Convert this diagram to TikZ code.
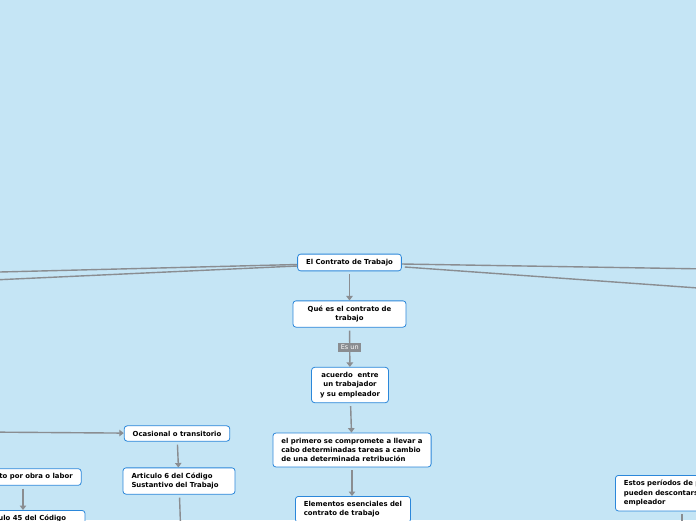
\documentclass[tikz,border=0pt]{standalone}
\usepackage{fontspec}
\setmainfont{DejaVu Sans}
\usetikzlibrary{arrows.meta}
\definecolor{sky}{HTML}{C5E5F5}
\definecolor{boxblue}{HTML}{2B87DA}
\definecolor{linkgray}{HTML}{8A8D91}

\begin{document}
\begin{tikzpicture}[x=1pt,y=-1pt,
    box/.style={draw=boxblue, fill=white, rounded corners=3pt, line width=0.8pt,
        font=\bfseries\fontsize{6.9}{9.3}\selectfont, inner xsep=8.5pt, inner ysep=5pt},
    link/.style={draw=linkgray, line width=1.4pt},
    arr/.style={link, -{Triangle[width=6.5pt,length=4.5pt]}, shorten <=3pt},
    tag/.style={fill=linkgray, text=white, font=\fontsize{6.5}{7}\selectfont,
        inner xsep=2.5pt, inner ysep=2.2pt}]
    \fill[sky] (0,0) rectangle (696,520);
    \useasboundingbox (0,0) rectangle (696,520);
    \clip (0,0) rectangle (696,520);

    \node[box] (root) at (349.5,262.5) {El Contrato de Trabajo};
    \node[box, align=center, minimum width=113pt] (que) at (349.5,314) {Qué es el contrato de\\trabajo};
    \node[box, align=center] (acuerdo) at (350,385) {acuerdo\ \ entre\\un trabajador\\y su empleador};
    \node[box, align=left] (primero) at (352,450) {el primero se compromete a llevar a\\cabo determinadas tareas a cambio\\de una determinada retribución};
    \node[box, align=left, anchor=north west] (elementos) at (295,496) {Elementos esenciales del\\contrato de trabajo};
    \node[box] (ocasional) at (177,433.5) {Ocasional o transitorio};
    \node[box, align=left, text width=95pt] (art6) at (179,481) {Articulo 6 del Código\\Sustantivo del Trabajo};
    \node[box] (obra) at (23,477) {Contrato por obra o labor};
    \node[box, anchor=north, minimum width=124pt] (art45) at (23,510) {Articulo 45 del Código};
    \node[box, align=left, anchor=north west, text width=118pt] (estos) at (615,475) {Estos períodos de prueba\\pueden descontarse\\empleador};

    \coordinate (west1) at (-40,273);
    \coordinate (west2) at (-40,281.5);
    \coordinate (east1) at (740,269.5);
    \coordinate (east2) at (740,291);
    \coordinate (west3) at (-20,432);
    \coordinate (art6end) at (181,540);
    \coordinate (estosend) at (682,540);

    \draw[link] ([yshift=-2pt]root.west) -- (west1);
    \draw[link] ([yshift=-3.5pt]root.west) -- (west2);
    \draw[link] ([yshift=-1.5pt]root.east) -- (east1);
    \draw[link] ([xshift=3pt,yshift=-4.5pt]root.east) -- (east2);
    \draw[arr] (root) -- (que);
    \draw[arr] (que) -- node[tag] (esun) {Es un} (acuerdo);
    \draw[arr] (acuerdo) -- (primero);
    \draw[arr] (primero.south) -- (primero.south |- elementos.north);
    \draw[arr] (west3) -- (ocasional);
    \draw[arr] (ocasional) -- (art6);
    \draw[arr] (art6) -- (art6end);
    \draw[arr] (obra) -- (art45);
    \draw[link, shorten <=3pt] (estos.south -| estosend) -- (estosend);
\end{tikzpicture}
\end{document}
